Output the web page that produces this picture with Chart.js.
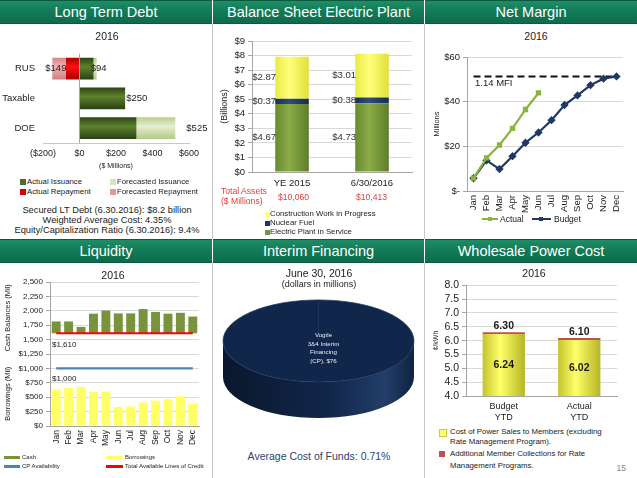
<!DOCTYPE html>
<html>
<head>
<meta charset="utf-8">
<script src="https://cdn.jsdelivr.net/npm/chart.js@4.4.0/dist/chart.umd.min.js"></script>
<style>
body{margin:0;width:637px;height:478px;position:relative;overflow:hidden;background:#fff;font-family:"Liberation Sans",Arial,sans-serif;color:#222}
.hd{position:absolute;height:24px;line-height:23px;text-align:center;color:#fff;font-size:14.5px;background:linear-gradient(#1e8d66,#117a56 50%,#0d6c4b);border-top:1px solid #0a5a3d;border-bottom:1px solid #0a5a3d;box-sizing:border-box}
.t{position:absolute;white-space:nowrap;line-height:1}
.vl{position:absolute;width:1px;background:#c6c6c6}
.sw{position:absolute}
canvas{position:absolute}
</style>
</head>
<body>
<div class="hd" style="left:0;top:0;width:212px">Long Term Debt</div>
<div class="hd" style="left:213px;top:0;width:211px">Balance Sheet Electric Plant</div>
<div class="hd" style="left:425px;top:0;width:212px">Net Margin</div>
<div class="hd" style="left:0;top:239px;width:212px">Liquidity</div>
<div class="hd" style="left:213px;top:239px;width:211px">Interim Financing</div>
<div class="hd" style="left:425px;top:239px;width:212px">Wholesale Power Cost</div>
<div class="vl" style="left:212px;top:24px;height:215px"></div>
<div class="vl" style="left:424px;top:24px;height:215px"></div>
<div class="vl" style="left:212px;top:263px;height:215px"></div>
<div class="vl" style="left:424px;top:263px;height:215px"></div>

<canvas id="debtChart" width="212" height="135" style="left:0;top:40px"></canvas>
<canvas id="plantChart" width="211" height="165" style="left:213px;top:30px"></canvas>
<canvas id="marginChart" width="212" height="172" style="left:425px;top:45px"></canvas>
<canvas id="liquidityChart" width="212" height="196" style="left:0;top:262px"></canvas>
<canvas id="interimChart" width="211" height="200" style="left:213px;top:241px"></canvas>
<canvas id="powerChart" width="212" height="150" style="left:425px;top:276px"></canvas>

<script>
// long term debt ($ millions)
var debtCats = ['RUS', 'Taxable', 'DOE'];
var actualIssuance = [77, 250, 312];
var forecastIssuance = [17, 0, 213];
var actualRepayment = [-74, 0, 0];
var forecastRepayment = [-75, 0, 0];

// balance sheet electric plant ($ billions)
var plantCats = ['YE 2015', '6/30/2016'];
var plantService = [4.67, 4.73];
var nuclearFuel = [0.37, 0.38];
var cwip = [2.87, 3.01];
var totalAssets = ['$10,060', '$10,413'];

// net margin ($ millions)
var months = ['Jan','Feb','Mar','Apr','May','Jun','Jul','Aug','Sep','Oct','Nov','Dec'];
var marginActual = [5.8, 14.8, 20.6, 28.0, 36.5, 43.9];
var marginBudget = [5.7, 13.7, 9.8, 15.6, 21.6, 26.2, 31.7, 38.5, 42.8, 47.4, 50.3, 51.3];
var mfiLine = [51.3, 51.3, 51.3, 51.3, 51.3, 51.3, 51.3, 51.3, 51.3, 51.3, 51.3, 51.3];

// liquidity ($ millions)
var cash = [1815, 1815, 1720, 1950, 2005, 1955, 1955, 2030, 1980, 1950, 1965, 1900];
var borrowings = [635, 660, 680, 590, 600, 330, 340, 410, 440, 465, 515, 390];
var creditLines = [1610, 1610, 1610, 1610, 1610, 1610, 1610, 1610, 1610, 1610, 1610, 1610];
var cpAvailability = [1000, 1000, 1000, 1000, 1000, 1000, 1000, 1000, 1000, 1000, 1000, 1000];

// interim financing
var interimLabel = ['Vogtle', '3&4 Interim', 'Financing', '(CP), $76'];
var interimValue = [76];

// wholesale power cost (cents/kWh)
var powerCats = [['Budget', 'YTD'], ['Actual', 'YTD']];
var powerCost = [6.24, 6.02];
var rateMgmt = [0.06, 0.08];

var FONT = '"Liberation Sans", Arial, sans-serif';
Chart.defaults.font.family = FONT;
Chart.defaults.color = '#222';
Chart.defaults.animation = false;
Chart.defaults.responsive = false;
Chart.defaults.devicePixelRatio = 1;
Chart.defaults.plugins.legend.display = false;
Chart.defaults.plugins.tooltip.enabled = false;

// text helper: x,y is anchor (center by default)
function lbl(text, x, y, size, opt) {
  opt = opt || {};
  var d = document.createElement('div');
  d.className = 't';
  d.textContent = text;
  d.style.fontSize = size + 'px';
  d.style.top = (y - size / 2) + 'px';
  d.style.left = x + 'px';
  var tx = opt.align == 'left' ? '0' : (opt.align == 'right' ? '-100%' : '-50%');
  d.style.transform = 'translateX(' + tx + ')' + (opt.rot ? ' rotate(-90deg)' : '');
  if (opt.color) d.style.color = opt.color;
  if (opt.bold) d.style.fontWeight = 'bold';
  document.body.appendChild(d);
  return d;
}
function box(x, y, w, h, color) {
  var d = document.createElement('div');
  d.className = 'sw';
  d.style.left = x + 'px'; d.style.top = y + 'px';
  d.style.width = w + 'px'; d.style.height = h + 'px';
  d.style.background = color;
  document.body.appendChild(d);
  return d;
}

// cylinder-ish gradient for bars
function barGrad(stops, pct, horizontal) {
  return function (c) {
    var chart = c.chart;
    var sc = horizontal ? chart.scales.y : chart.scales.x;
    if (!sc || c.dataIndex == null) return stops[1];
    var n = chart.data.labels.length;
    var len = horizontal ? sc.height : sc.width;
    var w = len / n * pct;
    var p = sc.getPixelForValue(c.dataIndex);
    if (!isFinite(p) || !isFinite(w) || w <= 0) return stops[1];
    var g = horizontal ? chart.ctx.createLinearGradient(0, p - w / 2, 0, p + w / 2)
                       : chart.ctx.createLinearGradient(p - w / 2, 0, p + w / 2, 0);
    g.addColorStop(0, stops[0]);
    g.addColorStop(0.42, stops[1]);
    g.addColorStop(1, stops[2]);
    return g;
  };
}

function money(v) { return '$' + Math.round(v); }

// ---------- Long Term Debt ----------
var debtLabels = {
  id: 'debtLabels',
  afterDatasetsDraw: function (chart) {
    var ctx = chart.ctx, xs = chart.scales.x, ys = chart.scales.y;
    var shift = [-6, 1, 11];
    ctx.save();
    ctx.font = '9.5px ' + FONT;
    ctx.fillStyle = '#222';
    ctx.textBaseline = 'middle';
    ctx.textAlign = 'left';
    debtCats.forEach(function (c, i) {
      var pos = actualIssuance[i] + forecastIssuance[i];
      var neg = actualRepayment[i] + forecastRepayment[i];
      var yy = ys.getPixelForValue(i);
      ctx.fillText(money(pos), xs.getPixelForValue(pos) + shift[i], yy);
      if (neg < 0) ctx.fillText(money(-neg), xs.getPixelForValue(neg) - 7, yy);
    });
    ctx.restore();
  }
};

new Chart(document.getElementById('debtChart'), {
  type: 'bar',
  data: {
    labels: debtCats,
    datasets: [
      { label: 'Actual Issuance', data: actualIssuance, backgroundColor: barGrad(['#2c4314', '#5e822e', '#2a3f12'], 0.73, true) },
      { label: 'Forecasted Issuance', data: forecastIssuance, backgroundColor: barGrad(['#b9cf8c', '#e4eed0', '#b3c985'], 0.73, true) },
      { label: 'Actual Repayment', data: actualRepayment, backgroundColor: barGrad(['#b00000', '#ff1010', '#a80000'], 0.73, true) },
      { label: 'Forecasted Repayment', data: forecastRepayment, backgroundColor: barGrad(['#d98488', '#f0b3b5', '#d47c80'], 0.73, true) }
    ]
  },
  plugins: [debtLabels],
  options: {
    indexAxis: 'y',
    categoryPercentage: 1,
    barPercentage: 0.73,
    layout: { padding: { left: 0, right: 23, top: 12, bottom: 0 } },
    scales: {
      x: {
        stacked: true, min: -200, max: 600,
        ticks: { stepSize: 200, padding: 5, font: { size: 9 },
          callback: function (v) { return v < 0 ? '($' + (-v) + ')' : '$' + v; } },
        grid: { drawTicks: false, color: function (c) { return c.tick && c.tick.value === 0 ? '#a6a6a6' : 'rgba(0,0,0,0)'; } },
        border: { display: true, color: '#c8c8c8' },
        afterFit: function (s) { s.height = 32; }
      },
      y: {
        stacked: true,
        ticks: { padding: 8, font: { size: 9.5 } },
        grid: { display: false, drawTicks: false },
        border: { display: false },
        afterFit: function (s) { s.width = 43; }
      }
    }
  }
});

lbl('2016', 107, 36, 10.5);
lbl('($ Millions)', 116, 165.5, 7);
box(20, 179, 6, 6, '#4f6d26'); lbl('Actual Issuance', 27, 182, 7.8, { align: 'left' });
box(110, 179, 6, 6, '#d7e4bd'); lbl('Forecasted Issuance', 117, 182, 7.8, { align: 'left' });
box(20, 189, 6, 6, '#e00000'); lbl('Actual Repayment', 27, 192, 7.8, { align: 'left' });
box(110, 189, 6, 6, '#e6989a'); lbl('Forecasted Repayment', 117, 192, 7.8, { align: 'left' });
lbl('Secured LT Debt (6.30.2016): $8.2 billion', 107, 210.5, 9.3);
lbl('Weighted Average Cost:  4.35%', 107, 220.8, 9.3);
lbl('Equity/Capitalization Ratio (6.30.2016): 9.4%', 107, 230.8, 9.3);

// ---------- Balance Sheet Electric Plant ----------
var plantLabels = {
  id: 'plantLabels',
  afterDatasetsDraw: function (chart) {
    var ctx = chart.ctx;
    ctx.save();
    ctx.font = '9.6px ' + FONT;
    ctx.fillStyle = '#333';
    ctx.textBaseline = 'middle';
    ctx.textAlign = 'right';
    chart.data.datasets.forEach(function (ds, i) {
      chart.getDatasetMeta(i).data.forEach(function (el, j) {
        ctx.fillText('$' + ds.data[j].toFixed(2), el.x - el.width / 2 + 1, (el.y + el.base) / 2);
      });
    });
    ctx.restore();
  }
};

new Chart(document.getElementById('plantChart'), {
  type: 'bar',
  data: {
    labels: plantCats,
    datasets: [
      { label: 'Electric Plant in Service', data: plantService, backgroundColor: barGrad(['#6a8a30', '#8aab48', '#5f7d2a'], 0.42) },
      { label: 'Nuclear Fuel', data: nuclearFuel, backgroundColor: barGrad(['#1a2f55', '#2d4c80', '#182b4e'], 0.42) },
      { label: 'Construction Work in Progress', data: cwip, backgroundColor: barGrad(['#eaea45', '#ffff7a', '#e0e03c'], 0.42) }
    ]
  },
  plugins: [plantLabels],
  options: {
    categoryPercentage: 1,
    barPercentage: 0.42,
    layout: { padding: { left: 2, right: 12, top: 11, bottom: 0 } },
    scales: {
      x: {
        stacked: true,
        ticks: { padding: 6, font: { size: 9.5 } },
        grid: { display: false, drawTicks: false },
        border: { color: '#a6a6a6' },
        afterFit: function (s) { s.height = 23; }
      },
      y: {
        stacked: true, min: 0, max: 9,
        ticks: { stepSize: 1, padding: 3, autoSkip: false, font: { size: 9.5 }, callback: function (v) { return '$' + v; } },
        grid: { color: '#d9d9d9', tickLength: 4, tickColor: '#a6a6a6' },
        border: { color: '#a6a6a6' },
        title: { display: true, text: '(Billions)', font: { size: 9 }, padding: { top: 4, bottom: 0 } },
        afterFit: function (s) { s.width = 37; }
      }
    }
  }
});

var red = '#e23b3b';
lbl('Total Assets', 221, 191, 8.6, { align: 'left', color: red });
lbl('($ Millions)', 221, 201.3, 8.6, { align: 'left', color: red });
lbl(totalAssets[0], 293.5, 197, 8.6, { color: red });
lbl(totalAssets[1], 371.5, 197, 8.6, { color: red });
box(265, 211.5, 5, 5, '#ffff66'); lbl('Construction Work in Progress', 270, 214, 7.8, { align: 'left' });
box(265, 220.5, 5, 5, '#1f3864'); lbl('Nuclear Fuel', 270, 223, 7.8, { align: 'left' });
box(265, 229.5, 5, 5, '#77933c'); lbl('Electric Plant in Service', 270, 232, 7.8, { align: 'left' });

// ---------- Net Margin ----------
new Chart(document.getElementById('marginChart'), {
  type: 'line',
  data: {
    labels: months,
    datasets: [
      { label: 'Actual', data: marginActual, borderColor: '#8db33f', backgroundColor: '#8db33f', borderWidth: 2.2,
        pointStyle: 'rect', pointRadius: 2.2, tension: 0 },
      { label: 'Budget', data: marginBudget, borderColor: '#1f3864', backgroundColor: '#1f3864', borderWidth: 2.2,
        pointStyle: 'rectRot', pointRadius: 2.6, tension: 0 },
      { label: '1.14 MFI', data: mfiLine, borderColor: '#111', borderWidth: 2, borderDash: [7, 4], pointRadius: 0 }
    ]
  },
  options: {
    layout: { padding: { left: 3, right: 14, top: 12, bottom: 0 } },
    scales: {
      x: {
        offset: true,
        ticks: { minRotation: 90, maxRotation: 90, autoSkip: false, padding: 4, font: { size: 9.5 } },
        grid: { display: false, drawTicks: false },
        border: { color: '#a6a6a6' },
        afterFit: function (s) { s.height = 26; }
      },
      y: {
        min: 0, max: 60,
        ticks: { stepSize: 20, padding: 3, font: { size: 9.5 }, callback: function (v) { return v === 0 ? '$-' : '$' + v; } },
        grid: { color: '#d9d9d9', tickLength: 4, tickColor: '#a6a6a6' },
        border: { color: '#a6a6a6' },
        title: { display: true, text: 'Millions', font: { size: 7.5 }, padding: { top: 4, bottom: 0 } },
        afterFit: function (s) { s.width = 39; }
      }
    }
  }
});

lbl('2016', 536, 36, 10.5);
lbl('1.14 MFI', 475, 83, 9.5, { align: 'left' });
box(482, 218, 16, 2, '#8db33f'); box(488, 217, 4, 4, '#8db33f');
lbl('Actual', 500, 219.5, 8.5, { align: 'left' });
box(532, 218, 19, 2, '#1f3864'); box(539, 217, 4, 4, '#1f3864');
lbl('Budget', 554, 219.5, 8.5, { align: 'left' });

// ---------- Liquidity ----------
new Chart(document.getElementById('liquidityChart'), {
  type: 'bar',
  data: {
    labels: months,
    datasets: [
      { type: 'line', label: 'Total Available Lines of Credit', data: creditLines, borderColor: '#ff0000', borderWidth: 2.2, pointRadius: 0, order: 0 },
      { type: 'line', label: 'CP Availability', data: cpAvailability, borderColor: '#4f81bd', borderWidth: 2.2, pointRadius: 0, order: 0 },
      { label: 'Cash', data: cash.map(function (v, i) { return [creditLines[i], v]; }), backgroundColor: '#77933c', grouped: false, order: 1 },
      { label: 'Borrowings', data: borrowings, backgroundColor: '#ffff66', grouped: false, order: 1 }
    ]
  },
  options: {
    categoryPercentage: 1,
    barPercentage: 0.72,
    layout: { padding: { left: 0, right: 13, top: 20, bottom: 0 } },
    scales: {
      x: {
        ticks: { minRotation: 90, maxRotation: 90, autoSkip: false, padding: 4, font: { size: 8.5 } },
        grid: { display: false, drawTicks: false },
        border: { color: '#a6a6a6' },
        afterFit: function (s) { s.height = 32; }
      },
      y: {
        min: 0, max: 2500,
        ticks: { stepSize: 250, padding: 3, autoSkip: false, font: { size: 8 },
          callback: function (v) { return (v >= 1500 ? '' : '$') + v.toLocaleString('en-US'); } },
        grid: { color: '#d9d9d9', tickLength: 4, tickColor: '#a6a6a6' },
        border: { color: '#a6a6a6' },
        afterFit: function (s) { s.width = 50; }
      }
    }
  }
});

lbl('2016', 113, 275, 10.5);
lbl('$1,610', 52, 345, 8, { align: 'left' });
lbl('$1,000', 52, 379, 8, { align: 'left' });
lbl('Cash Balances (Mil)', 8, 318, 7.5, { rot: true });
lbl('Borrowings (Mil)', 8, 394, 7.5, { rot: true });
box(4, 455.5, 16, 3, '#77933c'); lbl('Cash', 22, 457, 6, { align: 'left' });
box(106, 455.5, 17, 3, '#ffff66'); lbl('Borrowings', 125, 457, 6, { align: 'left' });
box(4, 464.5, 16, 3, '#4f81bd'); lbl('CP Availability', 22, 466, 6, { align: 'left' });
box(106, 464.5, 17, 3, '#ff0000'); lbl('Total Available Lines of Credit', 125, 466, 6, { align: 'left' });

// ---------- Interim Financing ----------
var tilt = {
  id: 'tilt',
  beforeDatasetsDraw: function (chart) {
    var arc = chart.getDatasetMeta(0).data[0];
    var ctx = chart.ctx, r = arc.outerRadius, k = 0.43, d = 36;
    ctx.save();
    var g = ctx.createLinearGradient(arc.x - r, 0, arc.x + r, 0);
    g.addColorStop(0, '#0a182c');
    g.addColorStop(0.55, '#11264a');
    g.addColorStop(0.85, '#223e68');
    g.addColorStop(1, '#0f2342');
    ctx.fillStyle = g;
    ctx.beginPath();
    ctx.ellipse(arc.x, arc.y + d, r, r * k, 0, 0, Math.PI);
    ctx.lineTo(arc.x - r, arc.y);
    ctx.ellipse(arc.x, arc.y, r, r * k, 0, Math.PI, 0, true);
    ctx.closePath();
    ctx.fill();
    ctx.translate(arc.x, arc.y);
    ctx.scale(1, k);
    ctx.translate(-arc.x, -arc.y);
  },
  afterDatasetsDraw: function (chart) {
    var ctx = chart.ctx;
    ctx.restore();
    var arc = chart.getDatasetMeta(0).data[0];
    ctx.save();
    ctx.font = '6.2px ' + FONT;
    ctx.fillStyle = '#e8ecf2';
    ctx.textAlign = 'center';
    ctx.textBaseline = 'middle';
    interimLabel.forEach(function (s, i) {
      ctx.fillText(s, arc.x + 5, arc.y - 5.7 + i * 8.7);
    });
    ctx.restore();
  }
};

new Chart(document.getElementById('interimChart'), {
  type: 'pie',
  data: {
    labels: ['Vogtle 3&4 Interim Financing (CP)'],
    datasets: [{ data: interimValue, backgroundColor: '#10264a', borderColor: '#1d3761', borderWidth: 1 }]
  },
  plugins: [tilt],
  options: {
    layout: { padding: 4 }
  }
});

lbl('June 30, 2016', 319, 273, 10.5);
lbl('(dollars in millions)', 319, 284.5, 9);
lbl('Average Cost of Funds: 0.71%', 319, 456, 10.5, { color: '#2b4470' });

// ---------- Wholesale Power Cost ----------
var powerLabels = {
  id: 'powerLabels',
  afterDatasetsDraw: function (chart) {
    var ctx = chart.ctx, ys = chart.scales.y, xs = chart.scales.x;
    ctx.save();
    ctx.font = 'bold 10.5px ' + FONT;
    ctx.fillStyle = '#1a1a1a';
    ctx.textAlign = 'center';
    ctx.textBaseline = 'middle';
    powerCost.forEach(function (v, i) {
      var x = xs.getPixelForValue(i);
      ctx.fillText(v.toFixed(2), x, ys.getPixelForValue((ys.min + v) / 2));
      ctx.fillText((v + rateMgmt[i]).toFixed(2), x, ys.getPixelForValue(v + rateMgmt[i]) - 6);
    });
    ctx.restore();
  }
};

new Chart(document.getElementById('powerChart'), {
  type: 'bar',
  data: {
    labels: powerCats,
    datasets: [
      { label: 'Cost of Power Sales to Members', data: powerCost, backgroundColor: barGrad(['#c4c42e', '#ffff6a', '#b5b526'], 0.56) },
      { label: 'Additional Member Collections', data: rateMgmt, backgroundColor: '#c0504d' }
    ]
  },
  plugins: [powerLabels],
  options: {
    categoryPercentage: 1,
    barPercentage: 0.56,
    layout: { padding: { left: 3, right: 20, top: 8, bottom: 0 } },
    scales: {
      x: {
        stacked: true,
        ticks: { padding: 5, font: { size: 9 } },
        grid: { display: false, drawTicks: false },
        border: { color: '#a6a6a6' },
        afterFit: function (s) { s.height = 30; }
      },
      y: {
        stacked: true, min: 4, max: 8,
        ticks: { stepSize: 0.5, padding: 3, autoSkip: false, font: { size: 10.5 }, callback: function (v) { return v.toFixed(1); } },
        grid: { color: '#d9d9d9', tickLength: 4, tickColor: '#a6a6a6' },
        border: { color: '#a6a6a6' },
        title: { display: true, text: '¢/kWh', font: { size: 7 }, padding: { top: 4, bottom: 0 } },
        afterFit: function (s) { s.width = 38; }
      }
    }
  }
});

lbl('2016', 534, 273, 10.5);
box(439, 429, 6, 6, '#ffff66').style.border = '1px solid #c8c84a';
lbl('Cost of Power Sales to Members (excluding', 450, 432, 7.8, { align: 'left' });
lbl('Rate Management Program).', 450, 442, 7.8, { align: 'left' });
box(439, 451, 6, 6, '#c0504d');
lbl('Additional Member Collections for Rate', 450, 454, 7.8, { align: 'left' });
lbl('Management Programs.', 450, 466, 7.8, { align: 'left' });
lbl('15', 626, 468, 8.5, { align: 'right', color: '#7f7f7f' });
</script>
</body>
</html>
